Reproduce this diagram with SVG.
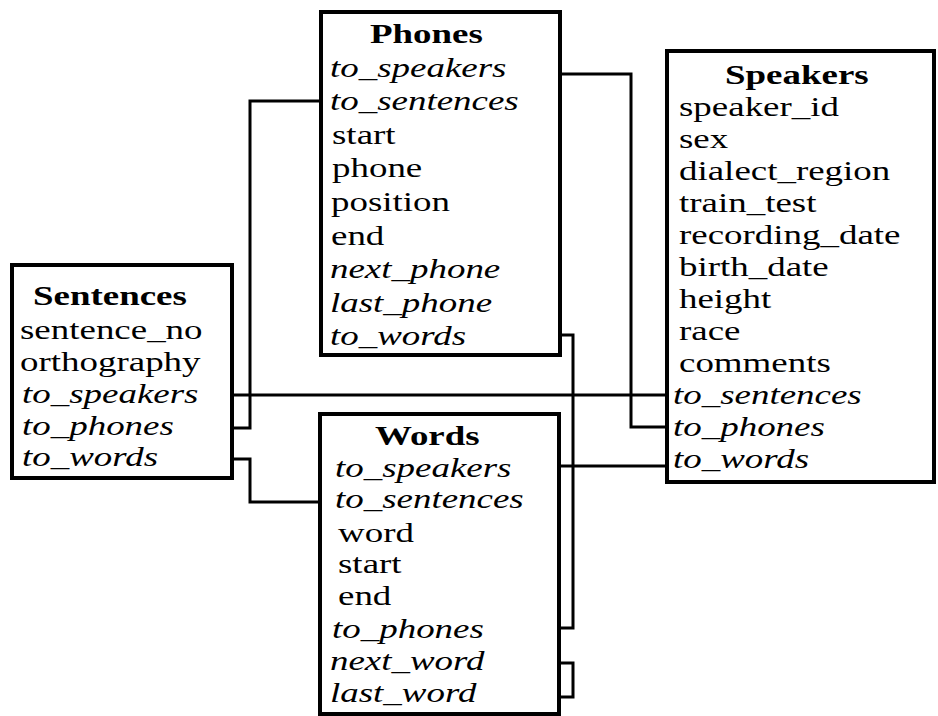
<svg xmlns="http://www.w3.org/2000/svg" width="938" height="716" viewBox="0 0 938 716">
<style>
.box{fill:#fff;stroke:#000;stroke-width:4}
.t{font-family:"Liberation Serif","Times New Roman",serif;font-size:28px;fill:#000}
.b{font-weight:bold}
.i{font-style:italic}
.c{fill:none;stroke:#000;stroke-width:3}
</style>
<rect width="938" height="716" fill="#fff"/>
<g id="connectors">
<path class="c" d="M233,395 H667"/>
<path class="c" d="M233,428 H250 V101 H321"/>
<path class="c" d="M233,459 H250 V502 H320"/>
<path class="c" d="M560,74 H631 V427 H667"/>
<path class="c" d="M560,335 H573 V628 H559"/>
<path class="c" d="M559,466 H667"/>
<path class="c" d="M559,663 H573 V697 H559"/>
</g>
<g id="sentences">
<rect class="box" x="12" y="265" width="220" height="213"/>
<text class="t b" transform="translate(33 305) scale(1.32 1)">Sentences</text>
<text class="t" transform="translate(20 339) scale(1.32 1)">sentence_no</text>
<text class="t" transform="translate(20 371) scale(1.32 1)">orthography</text>
<text class="t i" transform="translate(22 403) scale(1.32 1)">to_speakers</text>
<text class="t i" transform="translate(22 435) scale(1.32 1)">to_phones</text>
<text class="t i" transform="translate(22 466) scale(1.32 1)">to_words</text>
</g>
<g id="phones">
<rect class="box" x="321" y="12" width="239" height="343"/>
<text class="t b" transform="translate(370 43) scale(1.32 1)">Phones</text>
<text class="t i" transform="translate(330 77) scale(1.32 1)">to_speakers</text>
<text class="t i" transform="translate(330 110) scale(1.32 1)">to_sentences</text>
<text class="t" transform="translate(332 144) scale(1.32 1)">start</text>
<text class="t" transform="translate(332 177) scale(1.32 1)">phone</text>
<text class="t" transform="translate(331 211) scale(1.32 1)">position</text>
<text class="t" transform="translate(331 245) scale(1.32 1)">end</text>
<text class="t i" transform="translate(330 278) scale(1.32 1)">next_phone</text>
<text class="t i" transform="translate(330 312) scale(1.32 1)">last_phone</text>
<text class="t i" transform="translate(330 345) scale(1.32 1)">to_words</text>
</g>
<g id="speakers">
<rect class="box" x="667" y="51" width="267" height="431"/>
<text class="t b" transform="translate(725 84) scale(1.32 1)">Speakers</text>
<text class="t" transform="translate(679 116) scale(1.32 1)">speaker_id</text>
<text class="t" transform="translate(679 148) scale(1.32 1)">sex</text>
<text class="t" transform="translate(679 180) scale(1.32 1)">dialect_region</text>
<text class="t" transform="translate(679 212) scale(1.32 1)">train_test</text>
<text class="t" transform="translate(679 244) scale(1.32 1)">recording_date</text>
<text class="t" transform="translate(679 276) scale(1.32 1)">birth_date</text>
<text class="t" transform="translate(679 308) scale(1.32 1)">height</text>
<text class="t" transform="translate(679 340) scale(1.32 1)">race</text>
<text class="t" transform="translate(679 372) scale(1.32 1)">comments</text>
<text class="t i" transform="translate(673 404) scale(1.32 1)">to_sentences</text>
<text class="t i" transform="translate(673 436) scale(1.32 1)">to_phones</text>
<text class="t i" transform="translate(673 468) scale(1.32 1)">to_words</text>
</g>
<g id="words">
<rect class="box" x="320" y="414" width="239" height="300"/>
<text class="t b" transform="translate(375 445) scale(1.32 1)">Words</text>
<text class="t i" transform="translate(335 477) scale(1.32 1)">to_speakers</text>
<text class="t i" transform="translate(335 508) scale(1.32 1)">to_sentences</text>
<text class="t" transform="translate(338 542) scale(1.32 1)">word</text>
<text class="t" transform="translate(338 573) scale(1.32 1)">start</text>
<text class="t" transform="translate(338 605) scale(1.32 1)">end</text>
<text class="t i" transform="translate(332 638) scale(1.32 1)">to_phones</text>
<text class="t i" transform="translate(330 670) scale(1.32 1)">next_word</text>
<text class="t i" transform="translate(330 702) scale(1.32 1)">last_word</text>
</g>
</svg>
